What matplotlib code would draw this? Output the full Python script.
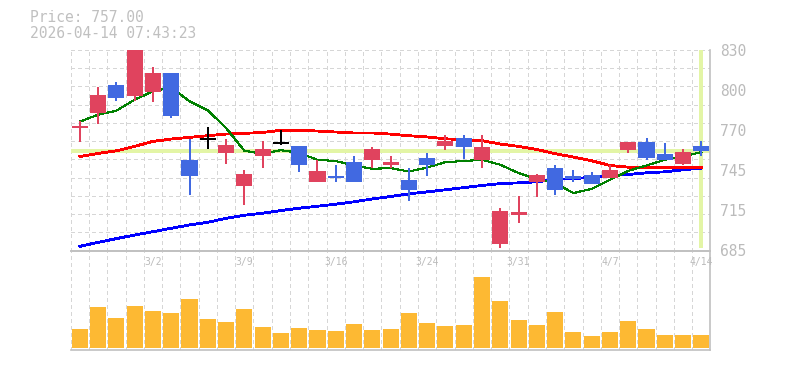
import matplotlib
matplotlib.use("Agg")
import matplotlib.pyplot as plt
import matplotlib.transforms as mtransforms
import numpy as np

# ---------------- data ----------------
dates = ["2/24", "2/25", "2/26", "2/27", "3/2", "3/3", "3/4", "3/5", "3/6", "3/9",
         "3/10", "3/11", "3/12", "3/13", "3/16", "3/17", "3/18", "3/19", "3/23", "3/24",
         "3/25", "3/26", "3/27", "3/30", "3/31", "4/1", "4/2", "4/3", "4/6", "4/7",
         "4/8", "4/9", "4/10", "4/13", "4/14"]

opens  = [773.6, 784.2, 805.0, 796.5, 799.9, 813.7, 750.6, 765.6, 755.2, 732.0,
          753.0, 762.7, 760.8, 734.9, 739.0, 748.7, 750.1, 747.0, 736.2, 752.1,
          760.3, 766.6, 750.1, 689.7, 711.0, 734.9, 744.8, 739.0, 739.7, 737.1,
          757.9, 763.7, 755.0, 747.9, 760.8]
highs  = [778.9, 803.0, 806.7, 836.0, 818.0, 813.7, 765.6, 774.5, 765.6, 743.4,
          763.9, 771.9, 760.8, 750.6, 747.0, 753.5, 760.0, 753.5, 744.6, 755.7,
          768.2, 768.2, 768.7, 715.8, 724.5, 740.5, 747.0, 743.4, 741.9, 746.5,
          763.7, 766.6, 762.9, 758.6, 764.4]
lows   = [763.2, 776.7, 792.9, 792.9, 792.2, 780.8, 725.2, 758.4, 747.9, 718.0,
          745.0, 761.0, 742.1, 734.9, 734.9, 734.9, 745.0, 744.6, 721.1, 739.2,
          757.4, 751.3, 744.6, 687.0, 705.2, 724.0, 725.2, 734.2, 733.2, 737.1,
          755.2, 750.1, 750.1, 746.5, 753.0]
closes = [774.8, 797.7, 795.1, 832.0, 813.7, 782.0, 739.2, 765.6, 761.5, 740.5,
          758.4, 762.7, 746.5, 742.6, 737.1, 734.9, 758.6, 748.7, 729.1, 746.5,
          763.9, 759.5, 760.0, 713.9, 712.9, 739.7, 728.4, 736.6, 733.2, 743.4,
          763.7, 752.1, 750.1, 756.4, 757.0]

ma_short = [778.2, 783.2, 786.1, 794.1, 800.1, 803.0, 792.9, 786.4, 773.6, 757.1,
            755.0, 757.6, 755.5, 750.6, 749.7, 746.5, 744.1, 744.6, 742.1, 745.0,
            748.9, 749.7, 750.6, 747.0, 741.0, 736.6, 733.7, 726.5, 729.6, 736.1,
            742.6, 746.5, 750.6, 753.0, 756.2]
ma_mid   = [753.0, 755.2, 757.1, 760.3, 763.9, 765.6, 766.8, 768.0, 769.2, 769.7,
            770.4, 771.9, 771.9, 771.4, 770.7, 770.0, 770.0, 769.2, 768.0, 767.1,
            765.8, 765.1, 764.4, 762.0, 760.3, 758.1, 755.0, 752.6, 749.9, 746.5,
            745.3, 745.3, 745.3, 744.8, 744.9]
ma_long  = [688.0, 690.9, 693.6, 696.2, 698.6, 701.1, 703.5, 705.4, 708.3, 710.5,
            712.0, 713.9, 715.6, 717.0, 718.5, 720.2, 722.3, 724.0, 726.0, 727.4,
            728.9, 730.5, 732.0, 733.4, 733.9, 734.7, 736.3, 737.1, 737.8, 739.0,
            740.0, 741.2, 741.9, 743.4, 744.6]

volumes = [19, 41, 30, 42, 37, 35, 49, 29, 26, 39,
           21, 15, 20, 18, 17, 24, 18, 19, 35, 25,
           22, 23, 71, 47, 28, 23, 36, 16, 12, 16,
           27, 19, 13, 13, 13]

price_min, price_max = 685, 830
price_labels = ["685", "715", "745", "770", "800", "830"]
last_price = 757.00
timestamp = "2026-04-14 07:43:23"

# ---------------- style ----------------
UP = "#e0435e"
DOWN = "#4169e1"
DOJI = "#000000"
VOLC = "#fdb933"
GRID = "#d6d6d6"
SPINE = "#c0c0c0"
TXT = "#bbbbbb"
CROSS = "#e3f5a6"
MONO = ["DejaVu Sans Mono"]

W, H = 785, 370
fig = plt.figure(figsize=(W / 100, H / 100), dpi=100)
fig.patch.set_facecolor("white")

left = 70.7 / W
width = (710.5 - 70.7) / W
ax = fig.add_axes([left, (H - 250.5) / H, width, 200.5 / H])
axv = fig.add_axes([left, (H - 350) / H, width, 99.5 / H])

n = len(closes)
x = np.arange(n)

for a in (ax, axv):
    a.set_xlim(-0.5, n - 0.5)
    a.set_facecolor("none")
    for s in a.spines.values():
        s.set_color(SPINE)
        s.set_linewidth(1.2)
    a.spines["left"].set_visible(False)
    a.tick_params(axis="x", length=0, labelbottom=False)
    for b in np.arange(n + 1) - 0.5:
        a.axvline(b, color=GRID, lw=0.8, ls=(0, (3, 3)), zorder=0, antialiased=False)

ax.spines["top"].set_visible(False)

# price axis
ax.set_ylim(price_min, price_max)
for yv in np.linspace(price_min, price_max, 12):
    ax.axhline(yv, color=GRID, lw=0.8, ls=(0, (3, 3)), zorder=0, antialiased=False)
ax.yaxis.tick_right()
ax.set_yticks(np.linspace(price_min, price_max, len(price_labels)))
ax.set_yticklabels(price_labels)
ax.tick_params(axis="y", length=0, pad=7, labelcolor=TXT, labelsize=10.5)
for t in ax.get_yticklabels():
    t.set_family(MONO)

# crosshair
ax.axhline(last_price, color=CROSS, lw=2.6, zorder=1, antialiased=False)
ax.plot([x[-1], x[-1]], [price_min + 2, price_max], color=CROSS, lw=2.6,
        zorder=1, antialiased=False, solid_capstyle="butt")

# moving averages
ax.plot(x, ma_long, color="#0000ff", lw=1.3, zorder=2, antialiased=False)
ax.plot(x, ma_mid, color="#ff0000", lw=1.3, zorder=2, antialiased=False)
ax.plot(x, ma_short, color="#008000", lw=0.8, zorder=2, antialiased=False)

# candles
bw = 0.88
o = np.array(opens); c = np.array(closes); hi = np.array(highs); lo = np.array(lows)
cols = np.where(c > o, UP, np.where(c < o, DOWN, DOJI))
ax.vlines(x, lo, hi, colors=cols, lw=1.3, zorder=3, antialiased=False)
body_mask = c != o
ax.bar(x[body_mask], np.abs(c - o)[body_mask], bottom=np.minimum(o, c)[body_mask],
       width=bw, color=cols[body_mask], linewidth=0, zorder=4, antialiased=False)
doji = ~body_mask
ax.hlines(c[doji], x[doji] - bw / 2, x[doji] + bw / 2, colors=DOJI, lw=1.3,
          zorder=4, antialiased=False)

# volume
vmax = max(volumes)
axv.set_ylim(-0.028 * vmax, 1.373 * vmax)
axv.set_yticks([])
axv.bar(x, volumes, width=bw, color=VOLC, linewidth=0, zorder=2, antialiased=False)

# date labels inside volume panel
trans = mtransforms.blended_transform_factory(axv.transData, axv.transAxes)
for i in range(4, n, 5):
    axv.text(x[i], 0.885, dates[i], transform=trans, ha="center", va="center",
             color=TXT, fontsize=7, family=MONO, zorder=5)

# header text
fig.text(30 / W, 1 - 18 / H, f"Price: {last_price:.2f}", color="#c0c0c0",
         fontsize=10.5, family=MONO, ha="left", va="center")
fig.text(30 / W, 1 - 33.5 / H, timestamp, color="#c0c0c0",
         fontsize=10.5, family=MONO, ha="left", va="center")

fig.savefig("out.png", dpi=100, facecolor="white")
